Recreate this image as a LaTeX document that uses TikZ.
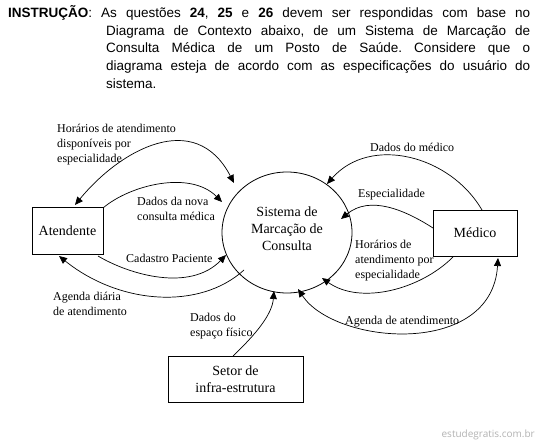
\documentclass[tikz,border=0pt]{standalone}
\usepackage{fontspec}
\setmainfont{Liberation Serif}
\newfontfamily\hdrfont{Liberation Sans}
\newfontfamily\wmfont{Open Sans}
\usetikzlibrary{arrows.meta,shapes.geometric}
\frenchspacing
\begin{document}
\begin{tikzpicture}[x=1pt,y=-1pt,
  lbl/.style={font=\fontsize{12}{15}\selectfont, align=left, anchor=west, inner sep=0pt},
  ent/.style={draw, line width=0.8pt, font=\fontsize{14}{17}\selectfont, align=center, inner sep=0pt},
  hdr/.style={anchor=base west, inner sep=0pt, font=\hdrfont\fontsize{13.5}{17.8}\selectfont},
  flow/.style={line width=0.7pt, -{Triangle[length=8pt,width=7pt]}},
  flowtwo/.style={line width=0.7pt, {Triangle[length=8pt,width=7pt]}-{Triangle[length=8pt,width=7pt]}}]
\useasboundingbox (0,0) rectangle (540,443);

% header
\node[hdr] (h1) at (8,17.3) {\makebox[522pt][s]{\textbf{INSTRUÇÃO}: As questões \textbf{24}, \textbf{25} e \textbf{26} devem ser respondidas com base no}};
\node[hdr] (h2) at (106,35.3) {\makebox[424pt][s]{Diagrama de Contexto abaixo, de um Sistema de Marcação de}};
\node[hdr] (h3) at (106,53) {\makebox[424pt][s]{Consulta Médica de um Posto de Saúde. Considere que o}};
\node[hdr] (h4) at (106,70.6) {\makebox[424pt][s]{diagrama esteja de acordo com as especificações do usuário do}};
\node[hdr] (h5) at (106,88.3) {sistema.};

% entities
\node[ent, minimum width=71pt, minimum height=47pt] (at) at (67.5,230.5) {Atendente};
\node[ent, minimum width=84pt, minimum height=46pt] (med) at (475,233) {Médico};
\node[ent, minimum width=135pt, minimum height=46pt] (set) at (235.5,379) {Setor de\\infra-estrutura};
\node[ent, ellipse, minimum width=130pt, minimum height=121pt] (sys) at (287,232.5) {Sistema de\\Marcação de\\Consulta\\[-10pt]};

% end points
\coordinate (a1) at (75,205);
\coordinate (s1) at (234,183);
\coordinate (a2) at (103,208);
\coordinate (s2) at (222,202);
\coordinate (a3) at (98,256);
\coordinate (s3) at (226,255);
\coordinate (s4) at (244,270);
\coordinate (a4) at (59,256);
\coordinate (t5) at (233,356);
\coordinate (s5) at (274,291);
\coordinate (s6) at (298,289);
\coordinate (m6) at (498,258);
\coordinate (m7) at (453,257);
\coordinate (s7) at (322,278);
\coordinate (m8) at (433,228);
\coordinate (s8) at (341,219);
\coordinate (m9) at (482,210);
\coordinate (s9) at (327,184);

% flows
\draw[flowtwo] (a1) .. controls (120,150) and (195,108) .. (s1);
\draw[flow] (a2) .. controls (130,185) and (190,170) .. (s2);
\draw[flow] (a3) .. controls (130,275) and (190,292) .. (s3);
\draw[flow] (s4) .. controls (200,310) and (120,305) .. (a4);
\draw[flow] (t5) .. controls (255,335) and (272,315) .. (s5);
\draw[flowtwo] (s6) .. controls (335,345) and (492,358) .. (m6);
\draw[flow] (m7) .. controls (420,290) and (360,305) .. (s7);
\draw[flow] (m8) .. controls (405,210) and (370,195) .. (s8);
\draw[flow] (m9) .. controls (450,155) and (370,135) .. (s9);

% labels
\node[lbl] (l1) at (57,144.3) {Horários de atendimento\\disponíveis por\\especialidade};
\node[lbl] (l2) at (137,208.5) {Dados da nova\\consulta médica};
\node[lbl] (l3) at (126,258) {Cadastro Paciente};
\node[lbl] (l4) at (53,304) {Agenda diária\\de atendimento};
\node[lbl] (l5) at (190,326) {Dados do\\espaço físico};
\node[lbl] (l6) at (345,322) {Agenda de atendimento};
\node[lbl] (l7) at (355,261) {Horários de\\atendimento por\\especialidade};
\node[lbl] (l8) at (358,194.5) {Especialidade};
\node[lbl] (l9) at (370,147) {Dados do médico};

% watermark
\node[anchor=base east, inner sep=0pt, font=\wmfont\fontsize{10}{12}\selectfont, text=black!30] (wm) at (535,437.5) {estudegratis.com.br};
\end{tikzpicture}
\end{document}
